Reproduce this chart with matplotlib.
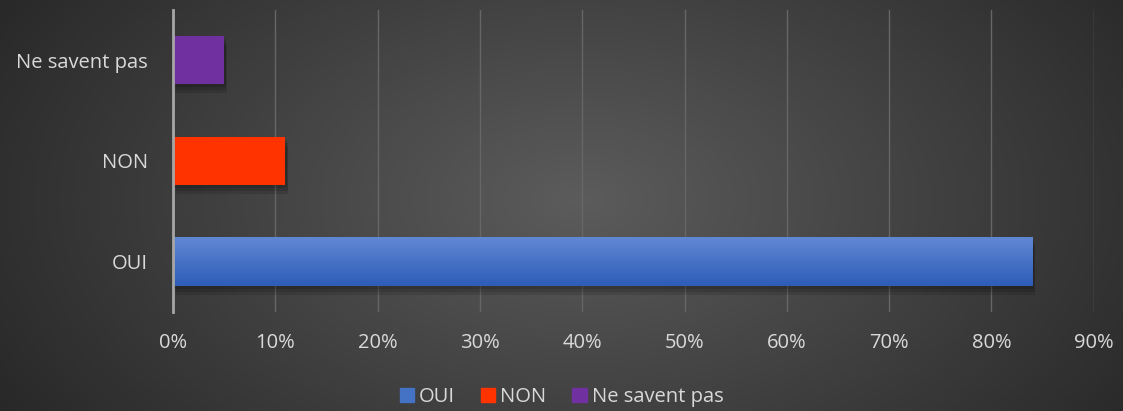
import numpy as np
import matplotlib.pyplot as plt
import matplotlib.colors as mc
from matplotlib.patches import Rectangle

categories = ["OUI", "NON", "Ne savent pas"]
values = [84, 11, 5]
colors = ["#4472c4", "#ff3300", "#7030a0"]
top_colors = ["#5f87d4", "#ff3300", "#7030a0"]
bottom_colors = ["#2f5db7", "#ff3300", "#7030a0"]
ticks = list(range(0, 100, 10))

plt.rcParams['font.family'] = ['Open Sans', 'DejaVu Sans']
txt = "#d9d9d9"

fig = plt.figure(figsize=(11.23, 4.11), dpi=100)

# radial background
bg = fig.add_axes([0, 0, 1, 1], zorder=-10)
yy, xx = np.mgrid[0:411, 0:1123]
r = np.sqrt(((xx - 580) / 700.0) ** 2 + ((yy - 200) / 420.0) ** 2)
r = np.clip(r, 0, 1)
shade = 0.36 - 0.21 * r
bg.imshow(np.dstack([shade] * 3), aspect='auto', extent=[0, 1, 0, 1])
bg.axis('off')

ax = fig.add_axes([0.154, 0.241, 0.82, 0.735])
ax.patch.set_alpha(0)
y = np.arange(len(categories))
h = 0.48

# soft drop shadows
for yi, v in zip(y, values):
    for k, d in enumerate([0.03, 0.06, 0.09]):
        ax.add_patch(Rectangle((0.1 + d * 2, yi - h / 2 - d), v, h, color='black',
                               alpha=0.12, lw=0, zorder=2))

bars = ax.barh(y, values, height=h, color=colors, zorder=3)
for b, c1, c2 in zip(bars, top_colors, bottom_colors):
    if c1 == c2:
        continue
    a = np.array(mc.to_rgb(c1)); bcol = np.array(mc.to_rgb(c2))
    t = np.linspace(0, 1, 50)[:, None]
    grad = a * (1 - t) + bcol * t
    x0, y0 = b.get_x(), b.get_y()
    im = ax.imshow(grad[:, None, :], aspect='auto', zorder=4,
                   extent=[x0, x0 + b.get_width(), y0, y0 + b.get_height()],
                   origin='upper')
    im.set_clip_path(b)

ax.set_xlim(0, 90)
ax.set_ylim(-0.5, 2.5)
ax.set_xticks(ticks)
ax.set_xticklabels([f"{t}%" for t in ticks])
ax.set_yticks(y)
ax.set_yticklabels(categories)
ax.tick_params(colors=txt, labelsize=14.5, length=0)
ax.tick_params(axis='x', pad=15)
ax.tick_params(axis='y', pad=18)
ax.grid(axis='x', color='#666666', lw=1, zorder=0)
ax.set_axisbelow(True)
for s in ['top', 'right', 'bottom']:
    ax.spines[s].set_visible(False)
ax.spines['left'].set_color('#a6a6a6')
ax.spines['left'].set_linewidth(2)
ax.spines['left'].set_zorder(5)

handles = [Rectangle((0, 0), 1, 1, color=c) for c in colors]
fig.legend(handles, categories, loc='lower center', ncol=3, frameon=False,
           bbox_to_anchor=(0.5, -0.035), fontsize=14.5, labelcolor=txt,
           handlelength=0.7, handleheight=0.7, handletextpad=0.25,
           columnspacing=1.3)

fig.savefig("out.png", dpi=100)
